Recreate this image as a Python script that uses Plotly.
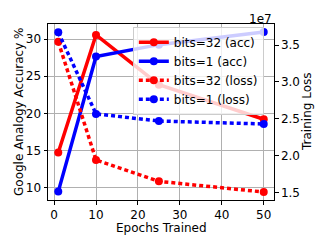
import plotly.graph_objects as go

epochs = [1, 10, 25, 50]
acc_bits32 = [14.73, 30.55, 23.85, 19.2]
acc_bits1 = [9.45, 27.65, 29.25, 30.95]
loss_bits32 = [3.545e7, 1.943e7, 1.653e7, 1.508e7]
loss_bits1 = [3.672e7, 2.567e7, 2.47e7, 2.43e7]

acc_ticks = [10, 15, 20, 25, 30]
loss_tickvals = [1.5e7, 2.0e7, 2.5e7, 3.0e7, 3.5e7]
loss_ticktext = ["1.5", "2.0", "2.5", "3.0", "3.5"]
x_ticks = [0, 10, 20, 30, 40, 50]

RED = "rgb(255,0,0)"
BLUE = "rgb(0,0,255)"
FONT = "DejaVu Sans"
FS = 12
DOT = "4px,3px"

fig = go.Figure()
fig.add_trace(go.Scatter(x=epochs, y=acc_bits32, name="bits=32 (acc)", mode="lines+markers",
                         line=dict(color=RED, width=3.5), marker=dict(size=8, color=RED)))
fig.add_trace(go.Scatter(x=epochs, y=acc_bits1, name="bits=1 (acc)", mode="lines+markers",
                         line=dict(color=BLUE, width=3.5), marker=dict(size=8, color=BLUE)))
fig.add_trace(go.Scatter(x=epochs, y=loss_bits32, name="bits=32 (loss)", mode="lines+markers", yaxis="y2",
                         line=dict(color=RED, width=3.5, dash=DOT), marker=dict(size=8, color=RED)))
fig.add_trace(go.Scatter(x=epochs, y=loss_bits1, name="bits=1 (loss)", mode="lines+markers", yaxis="y2",
                         line=dict(color=BLUE, width=3.5, dash=DOT), marker=dict(size=8, color=BLUE)))

axis_common = dict(showline=True, linecolor="black", linewidth=1, ticks="outside", ticklen=3.5,
                   tickcolor="black", tickfont=dict(family=FONT, size=FS, color="black"), zeroline=False,
                   automargin=False)

tfont = dict(family=FONT, size=FS, color="black")

fig.update_layout(
    width=327, height=245,
    margin=dict(l=48, r=53, t=24, b=45, autoexpand=False),
    paper_bgcolor="white", plot_bgcolor="white",
    font=dict(family=FONT, size=FS, color="black"),
    xaxis=dict(range=[-1.45, 52.45], tickvals=x_ticks, mirror=True, showgrid=True,
               gridcolor="rgb(176,176,176)", gridwidth=0.8, **axis_common),
    yaxis=dict(range=[8.32, 32.03], tickvals=acc_ticks, showgrid=True,
               gridcolor="rgb(176,176,176)", gridwidth=0.8, **axis_common),
    yaxis2=dict(range=[1.40e7, 3.785e7], tickvals=loss_tickvals, ticktext=loss_ticktext, overlaying="y",
                side="right", showgrid=False, **axis_common),
    legend=dict(x=0.955, y=0.985, xanchor="right", yanchor="top",
                bgcolor="rgba(255,255,255,0.8)", bordercolor="rgb(204,204,204)", borderwidth=1,
                font=tfont, tracegroupgap=0, itemwidth=30),
    showlegend=True,
    annotations=[
        dict(text="1e7", xref="paper", yref="paper", x=1.0, y=1.0, xanchor="right",
             yanchor="middle", yshift=5, showarrow=False, font=tfont),
        dict(text="Epochs Trained", xref="paper", yref="paper", x=0.5, y=0, xanchor="center",
             yanchor="top", yshift=-20, showarrow=False, font=tfont, borderpad=0),
        dict(text="Google Analogy Accuracy %", xref="paper", yref="paper", x=0, y=0.5, xanchor="center",
             yanchor="middle", xshift=-29, textangle=-90, showarrow=False, font=tfont),
        dict(text="Training Loss", xref="paper", yref="paper", x=1, y=0.5, xanchor="center",
             yanchor="middle", xshift=33, textangle=-90, showarrow=False, font=tfont),
    ],
)

fig.write_html("out.html", config={"displayModeBar": False},
               post_script="document.body.style.margin='0';document.body.style.padding='0';")
